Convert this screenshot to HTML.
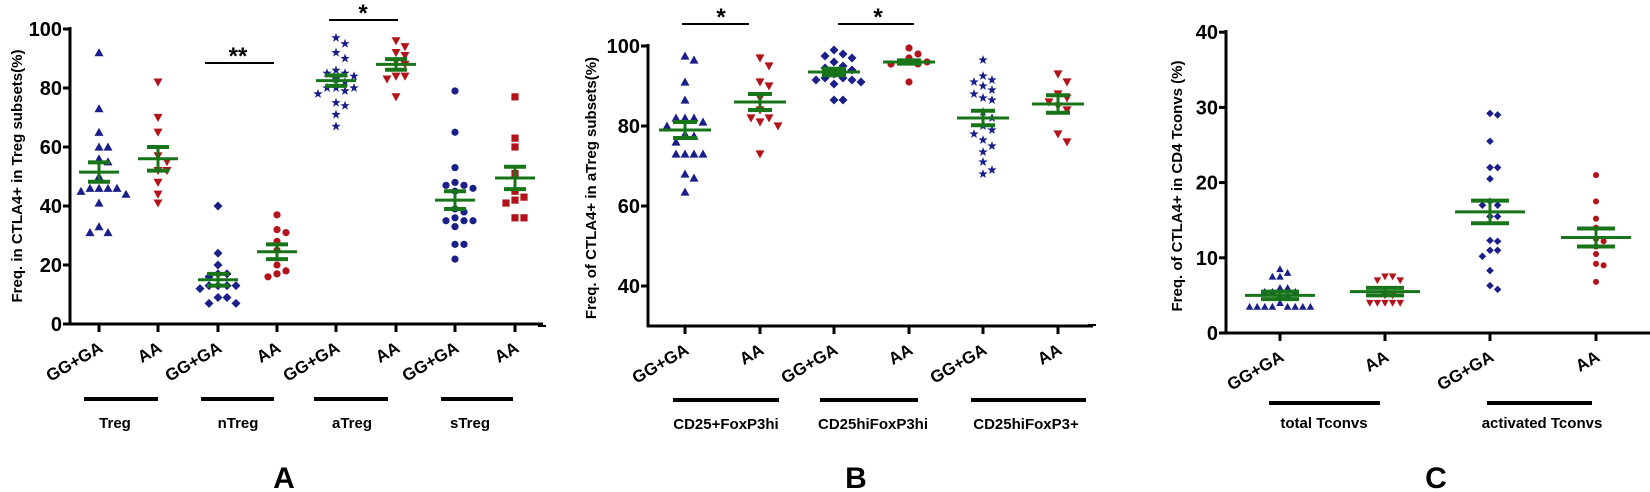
<!DOCTYPE html>
<html><head><meta charset="utf-8"><style>
html,body{margin:0;padding:0;background:#fff;}
svg{display:block;font-family:"Liberation Sans",Arial,sans-serif;font-weight:bold;}
</style></head><body>
<svg id="s" width="1650" height="492" viewBox="0 0 1650 492" xmlns="http://www.w3.org/2000/svg">
<g id="g"></g>
<text x="18" y="176" transform="rotate(-90 18 176)" text-anchor="middle" dominant-baseline="middle" font-size="15">Freq. in CTLA4+ in Treg subsets(%)</text>
<text x="592" y="188" transform="rotate(-90 592 188)" text-anchor="middle" dominant-baseline="middle" font-size="15">Freq. of CTLA4+ in aTreg subsets(%)</text>
<text x="1178" y="186" transform="rotate(-90 1178 186)" text-anchor="middle" dominant-baseline="middle" font-size="15">Freq. of CTLA4+ in CD4 Tconvs (%)</text>
<text x="284" y="488" text-anchor="middle" font-size="30">A</text>
<text x="856" y="488" text-anchor="middle" font-size="30">B</text>
<text x="1436" y="488" text-anchor="middle" font-size="30">C</text>
<text x="115" y="428" text-anchor="middle" font-size="15">Treg</text>
<text x="238" y="428" text-anchor="middle" font-size="15">nTreg</text>
<text x="352" y="428" text-anchor="middle" font-size="15">aTreg</text>
<text x="470" y="428" text-anchor="middle" font-size="15">sTreg</text>
<text x="726" y="429" text-anchor="middle" font-size="15">CD25+FoxP3hi</text>
<text x="873" y="429" text-anchor="middle" font-size="15">CD25hiFoxP3hi</text>
<text x="1026" y="429" text-anchor="middle" font-size="15">CD25hiFoxP3+</text>
<text x="1324" y="428" text-anchor="middle" font-size="15">total Tconvs</text>
<text x="1542" y="428" text-anchor="middle" font-size="15">activated Tconvs</text>
<text x="238" y="64" text-anchor="middle" font-size="24">**</text>
<text x="363" y="21" text-anchor="middle" font-size="24">*</text>
<text x="721" y="25" text-anchor="middle" font-size="24">*</text>
<text x="878" y="25" text-anchor="middle" font-size="24">*</text>
</svg>
<script>
var NS="http://www.w3.org/2000/svg",G=document.getElementById('g');
function el(t,a,txt){var e=document.createElementNS(NS,t);for(var k in a)e.setAttribute(k,a[k]);if(txt!==undefined)e.textContent=txt;G.appendChild(e);return e;}
function line(x1,y1,x2,y2,w,c){el('line',{x1:x1,y1:y1,x2:x2,y2:y2,stroke:c||'#000','stroke-width':w});}
var BLUE='#1b1f8a',RED='#b3141b',GREEN='#187418';
function marker(type,x,y,r,c){
 if(type=='tu')el('polygon',{points:[x,y-r,x-r,y+r*0.8,x+r,y+r*0.8].join(' '),fill:c});
 else if(type=='td')el('polygon',{points:[x,y+r,x-r,y-r*0.8,x+r,y-r*0.8].join(' '),fill:c});
 else if(type=='dm')el('polygon',{points:[x,y-r,x+r,y,x,y+r,x-r,y].join(' '),fill:c});
 else if(type=='ci')el('circle',{cx:x,cy:y,r:r*0.8,fill:c});
 else if(type=='sq')el('rect',{x:x-r*0.8,y:y-r*0.8,width:r*1.6,height:r*1.6,fill:c});
 else if(type=='st'){var p=[];for(var i=0;i<10;i++){var a=-Math.PI/2+i*Math.PI/5,rr=i%2?r*0.45:r*1.1;p.push((x+rr*Math.cos(a)).toFixed(1)+','+(y+rr*Math.sin(a)).toFixed(1));}el('polygon',{points:p.join(' '),fill:c});}
}
function group(cx,vals,ys,type,c,r,mean,sem,hw,cw){
 var placed=[];var d=r*2;
 vals.slice().sort(function(a,b){return b-a}).forEach(function(v){
  var y=ys(v),off=0;
  for(var k=0;k<40;k++){var o=(k%2?1:-1)*Math.ceil(k/2)*d;var ok=true;
   for(var j=0;j<placed.length;j++){var p=placed[j];if(Math.hypot(p[0]-(cx+o),p[1]-y)<d*0.95){ok=false;break;}}
   if(ok){off=o;break;}}
  placed.push([cx+off,y]);marker(type,cx+off,y,r,c);
 });
 var ym=ys(mean),yt=ys(mean+sem),yb=ys(mean-sem);
 line(cx-hw,ym,cx+hw,ym,3,GREEN);
 line(cx,yt,cx,yb,3,GREEN);
 line(cx-cw,yt,cx+cw,yt,4,GREEN);line(cx-cw,yb,cx+cw,yb,4,GREEN);
}
function xlabels(ticks,ay){ticks.forEach(function(t,i){line(t,ay,t,ay+8,3);
 var x=t+5,y=ay+27;el('text',{x:x,y:y,'text-anchor':'end','font-size':17,transform:'rotate(-30 '+x+' '+y+')'},i%2?'AA':'GG+GA');});}
// Panel A
var yA=function(v){return 324-v*2.95};
line(70,27,70,325,3);line(69,324,543,324,3);
[0,20,40,60,80,100].forEach(function(v){var y=yA(v);line(63,y,70,y,3);el('text',{x:62,y:y+7,'text-anchor':'end','font-size':20},v);});
var tA=[99,158,218,277,336,396,455,515];xlabels(tA,324);
[[84,158],[201,274],[314,388],[441,513]].forEach(function(s){line(s[0],399,s[1],399,4);});
line(205,63,274,63,2);line(329,20,398,20,2);
group(99,[92,73,65,60,60,56,55,50,46,46,46,46,45,44,41,33,31,31],yA,'tu',BLUE,4.5,51.5,3.3,20,11);
group(158,[82,70,65,57,55,52,52,48,44,41],yA,'td',RED,4.5,56,4,20,11);
group(218,[40,24,20,17,17,16,13,13,13,13,12,9,9,7,7],yA,'dm',BLUE,4.5,15,2,20,11);
group(277,[37,32,31,28,25,20,18,17,16],yA,'ci',RED,4.5,24.5,2.5,20,11);
group(336,[97,95,92,90,86,85,85,84,83,82,80,80,80,79,78,75,74,71,67],yA,'st',BLUE,4.5,82.5,1.8,20,11);
group(396,[96,94,92,91,89,88,84,84,83,77],yA,'td',RED,4.5,88,1.8,20,11);
group(455,[79,65,53,48,47,47,46,45,39,38,36,35,35,35,33,27,27,22],yA,'ci',BLUE,4.5,42,3,20,11);
group(515,[77,63,60,51,45,43,42,41,36,36],yA,'sq',RED,4.5,49.5,3.8,20,11);
// Panel B
var yB=function(v){return 46+(100-v)*4};
line(648,44,648,327,3);line(647,326,1093,326,3);
[40,60,80,100].forEach(function(v){var y=yB(v);line(641,y,648,y,3);el('text',{x:640,y:y+7,'text-anchor':'end','font-size':20},v);});
xlabels([685,760,834,909,983,1058],326);
[[673,779],[820,918],[971,1086]].forEach(function(s){line(s[0],400,s[1],400,4);});
line(682,24,749,24,2);line(838,24,914,24,2);
group(685,[97.5,96.5,91,86.5,82,82,82,81,80,78,77.5,76,73,73,73,73,68,67,63.5],yB,'tu',BLUE,4.5,79,2,26,12);
group(760,[97,95,90,91,87,84,82,82,81,80,73],yB,'td',RED,4.5,86,2,26,12);
group(834,[99,98,97.5,97,96,95,94.5,94,93,92,92,91.5,91.5,91,90.5,86.5,86.5],yB,'dm',BLUE,4.5,93.5,0.8,26,12);
group(909,[99.5,98,97,96,96,95.5,95.5,91],yB,'ci',RED,4.5,96,0.4,26,12);
group(983,[96.5,92.5,91.5,91,90,89,88,87,86.5,83.5,82,80,79,78,76.5,75,73.5,71,69,68],yB,'st',BLUE,4.5,82,1.8,26,12);
group(1058,[93,91,88,87,86,85,84,78,76],yB,'td',RED,4.5,85.5,2.2,26,12);
// Panel C
var yC=function(v){return 333-v*7.52};
line(1226,30,1226,334,3);line(1225,333,1650,333,3);
[0,10,20,30,40].forEach(function(v){var y=yC(v);line(1219,y,1226,y,3);el('text',{x:1218,y:y+7,'text-anchor':'end','font-size':20},v);});
xlabels([1280,1385,1490,1596],333);
[[1269,1380],[1487,1592]].forEach(function(s){line(s[0],403,s[1],403,4);});
group(1280,[8.5,8,7.5,7.5,6,6,5.5,5.5,5.5,5,5,4,3.5,3.5,3.5,3.5,3.5,3.5,3.5,3.5],yC,'tu',BLUE,3.8,5,0.5,35,19);
group(1385,[7.5,7.5,7,7,5,5,4,4,4,4,4],yC,'td',RED,3.8,5.5,0.5,35,19);
group(1490,[29.2,29,25.5,22,22,20.5,17.5,17,17,15.5,15.5,12.3,12.2,11,11,10.2,8.3,6.3,5.8],yC,'dm',BLUE,3.8,16.1,1.5,35,19);
group(1596,[21,17.5,15.2,14,12.5,12.2,11.5,10.5,9.2,9,6.8],yC,'ci',RED,3.8,12.7,1.2,35,19);
line(538,326,546,326,2);line(1088,325,1096,325,2);
</script>
</body></html>
